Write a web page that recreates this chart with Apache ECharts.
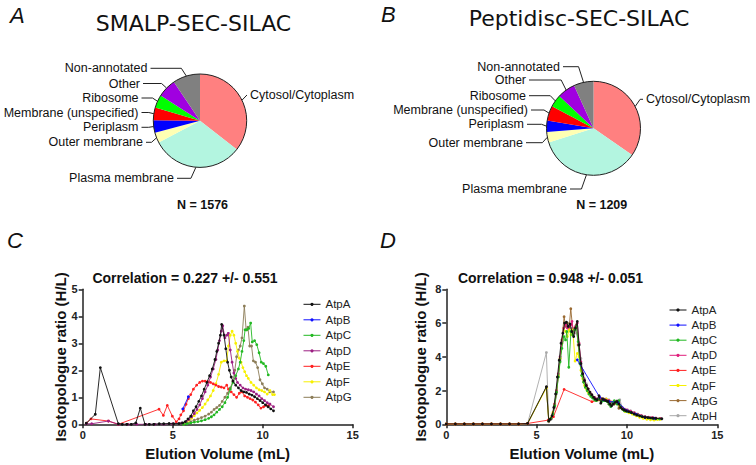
<!DOCTYPE html>
<html><head><meta charset="utf-8">
<script src="https://cdn.jsdelivr.net/npm/echarts@6/dist/echarts.min.js"></script>
<style>html,body{margin:0;padding:0;background:#fff}#c{width:756px;height:465px}</style>
</head><body><div id="c"></div>
<script>
// ---------- DATA ----------
const pieCategories = ['Cytosol/Cytoplasm','Plasma membrane','Outer membrane','Periplasm','Membrane (unspecified)','Ribosome','Other','Non-annotated'];
const pieColors = ['#ff8080','#b3f5e0','#ffffb3','#0000ff','#ff0000','#00ff00','#a000e0','#808080'];
const smalpCounts = [560, 500, 56, 69, 69, 71, 102, 149];      // N = 1576
const peptidiscCounts = [419, 429, 44, 47, 62, 51, 75, 82];    // N = 1209
const smalpN = 'N = 1576';
const peptidiscN = 'N = 1209';

const proteinsC = ['AtpA','AtpB','AtpC','AtpD','AtpE','AtpF','AtpG'];
const proteinsD = ['AtpA','AtpB','AtpC','AtpD','AtpE','AtpF','AtpG','AtpH'];
const xTicks = [0, 5, 10, 15];

// Panel C (SMALP) : [elution volume mL, H/L ratio]
const atpA_C = [[0.2,0.04],[0.7,0.37],[0.98,2.1],[1.98,0.02],[2.2,0],[2.45,0],[2.7,0],[2.95,0.05],[3.2,0.6],[3.46,0],[3.7,0],[3.95,0],[4.25,0.02],[4.5,0.02],[4.8,0.03],[5.05,0.02],[5.35,0.03],[5.55,0.05],[5.7,0.1],[5.85,0.2],[6.0,0.3],[6.15,0.5],[6.3,0.65],[6.45,0.85],[6.6,1.05],[6.75,1.3],[6.9,1.55],[7.05,1.8],[7.2,2.05],[7.35,2.4],[7.45,2.7],[7.55,3.0],[7.65,3.3],[7.72,3.7],[7.85,3.3],[7.95,2.8],[8.05,2.3],[8.15,2.0],[8.25,1.75],[8.35,1.6],[8.5,1.45],[8.65,1.35],[8.8,1.25],[8.95,1.2],[9.1,1.18],[9.25,1.12],[9.4,1.08],[9.55,1.02],[9.7,0.95],[9.85,0.88],[10.0,0.8],[10.15,0.72],[10.3,0.65],[10.45,0.57],[10.6,0.5]];
const atpB_C = [[5.56,0.57],[5.87,1.02]];
const atpC_C = [[5.6,0.0],[5.8,0.02],[6.0,0.05],[6.2,0.08],[6.4,0.1],[6.6,0.13],[6.8,0.17],[7.0,0.22],[7.15,0.28],[7.3,0.35],[7.45,0.45],[7.6,0.55],[7.75,0.65],[7.9,0.8],[8.05,1.0],[8.2,1.3],[8.35,1.55],[8.5,1.8],[8.65,2.05],[8.75,2.3],[8.85,2.7],[8.95,3.1],[9.02,3.5],[9.12,3.5],[9.22,3.55],[9.33,3.75],[9.42,3.05],[9.55,3.1],[9.67,2.95],[9.8,2.65],[9.92,2.3],[10.04,2.25],[10.17,2.15],[10.31,1.83]];
const atpD_C = [[0.2,0.02],[0.5,0.02],[1.43,0.12],[1.98,0.0],[2.5,0],[3.0,0],[3.5,0],[4.0,0],[4.5,0.0],[5.0,0.02],[5.5,0.05],[5.75,0.1],[5.9,0.18],[6.05,0.28],[6.2,0.4],[6.35,0.55],[6.5,0.72],[6.65,0.95],[6.8,1.2],[6.95,1.45],[7.1,1.75],[7.25,2.05],[7.4,2.4],[7.5,2.75],[7.6,3.1],[7.7,3.45],[7.78,3.65],[7.9,3.2],[8.0,3.3],[8.09,3.37],[8.2,2.75],[8.3,2.3],[8.4,1.9],[8.5,1.7],[8.6,1.55],[8.75,1.45],[8.9,1.35],[9.05,1.3],[9.2,1.28],[9.35,1.25],[9.5,1.2],[9.65,1.12],[9.8,1.05],[9.95,0.95],[10.1,0.88],[10.25,0.8],[10.4,0.75],[10.6,0.65]];
const atpE_C = [[0.2,0.04],[0.46,0.2],[1.43,0.12],[1.98,0.0],[4.24,0.56],[4.48,0.33],[4.7,0.7],[4.98,0.3],[5.2,0.09],[5.35,0.2],[5.45,0.35],[5.6,0.5],[5.74,0.74],[5.87,0.95],[6.0,1.1],[6.15,1.3],[6.33,1.45],[6.5,1.55],[6.65,1.6],[6.8,1.6],[6.95,1.58],[7.1,1.55],[7.25,1.5],[7.4,1.45],[7.55,1.4],[7.7,1.38],[7.85,1.35],[8.0,1.45],[8.1,1.3],[8.25,1.2],[8.4,1.1],[8.55,1.0],[8.7,1.15],[8.85,1.2],[9.0,1.05],[9.15,1.0],[9.3,0.95],[9.45,0.9],[9.6,0.82],[9.75,0.72],[9.9,0.6],[10.05,0.65],[10.2,0.7],[10.35,0.7]];
const atpF_C = [[5.6,0.02],[5.75,0.08],[5.9,0.15],[6.05,0.22],[6.2,0.32],[6.35,0.42],[6.5,0.52],[6.65,0.62],[6.8,0.75],[6.95,0.9],[7.1,1.05],[7.25,1.25],[7.4,1.5],[7.55,1.85],[7.7,2.3],[7.85,2.35],[8.0,2.35],[8.1,2.9],[8.2,3.3],[8.3,3.45],[8.4,3.3],[8.5,3.0],[8.6,2.7],[8.7,2.45],[8.8,2.3],[8.9,2.1],[9.0,1.95],[9.1,1.8],[9.2,1.7],[9.35,1.55],[9.5,1.45],[9.65,1.35],[9.8,1.28],[9.95,1.25],[10.1,1.2],[10.25,1.12],[10.4,1.25],[10.55,1.1],[10.65,1.1]];
const atpG_C = [[5.6,0.0],[5.8,0.05],[6.0,0.1],[6.2,0.15],[6.4,0.2],[6.6,0.25],[6.8,0.3],[7.0,0.38],[7.15,0.45],[7.3,0.55],[7.45,0.62],[7.6,0.7],[7.75,0.85],[7.9,1.0],[8.05,1.15],[8.2,1.35],[8.35,1.6],[8.45,2.0],[8.55,2.5],[8.65,2.75],[8.75,2.9],[8.85,3.2],[8.98,4.38],[9.08,3.5],[9.18,3.6],[9.28,2.9],[9.38,2.9],[9.48,2.35],[9.6,2.3],[9.72,2.1],[9.85,1.65],[9.98,1.5],[10.1,1.35],[10.25,1.3],[10.4,1.2],[10.6,1.2]];

// Panel D (Peptidisc)
const flatD = [[0,0.02],[0.5,0.02],[1,0.02],[1.5,0.02],[2,0.02],[2.5,0.02],[3,0.02],[3.5,0.02],[4,0.02],[4.5,0.05]];
const atpA_D = [[5.54,2.23],[5.67,0.2],[5.75,0.3],[5.85,0.5],[5.95,1.0],[6.05,1.8],[6.15,2.8],[6.25,3.8],[6.35,4.8],[6.45,5.4],[6.55,6.0],[6.65,6.05],[6.75,5.8],[6.85,5.95],[6.95,5.5],[7.05,5.2],[7.15,5.7],[7.25,6.1],[7.35,4.7],[7.45,3.6],[7.55,3.0],[7.65,2.6],[7.75,2.3],[7.85,2.1],[7.95,1.9],[8.05,1.75],[8.15,1.6],[8.25,1.5],[8.35,1.45],[8.45,1.7],[8.55,1.25],[8.65,1.5],[8.75,1.45],[8.85,1.4],[8.95,1.35],[9.05,1.2],[9.15,1.1],[9.25,1.2],[9.35,1.3],[9.45,1.35],[9.55,1.2],[9.65,1.0],[9.75,0.9],[9.85,0.85],[9.95,0.8],[10.1,0.75],[10.25,0.7],[10.4,0.62],[10.55,0.55],[10.7,0.5],[10.85,0.45],[11.0,0.42],[11.15,0.4],[11.3,0.38],[11.45,0.37],[11.6,0.35],[11.93,0.33]];
const atpB_D = [[7.25,3.82],[8.48,1.62],[8.7,1.45],[9.0,1.35],[9.5,1.3],[10.0,0.8],[10.5,0.6],[11.0,0.42],[11.5,0.36]];
const atpC_D = [[5.67,0.2],[5.8,0.35],[5.9,0.6],[6.0,1.1],[6.1,1.9],[6.2,2.8],[6.3,3.7],[6.4,4.5],[6.5,5.2],[6.6,5.0],[6.67,5.5],[6.78,3.38],[6.9,5.5],[7.0,5.3],[7.1,5.6],[7.2,5.8],[7.3,4.9],[7.4,3.6],[7.5,2.9],[7.6,2.5],[7.7,2.2],[7.8,2.0],[7.9,1.8],[8.0,1.65],[8.1,1.55],[8.2,1.45],[8.3,1.4],[8.45,1.5],[8.6,1.35],[8.75,1.4],[8.9,1.35],[9.0,1.2],[9.1,1.05],[9.2,1.3],[9.3,1.4],[9.45,1.2],[9.55,1.4],[9.65,1.05],[9.75,0.9],[9.85,0.8],[10.0,0.75],[10.2,0.7],[10.4,0.6],[10.6,0.55],[10.8,0.48],[11.0,0.42],[11.2,0.38],[11.4,0.35],[11.6,0.33],[11.8,0.32]];
const atpD_D = [[5.67,0.2],[5.8,0.35],[5.9,0.6],[6.0,1.2],[6.1,2.0],[6.2,3.0],[6.3,4.0],[6.4,4.9],[6.5,5.7],[6.6,5.9],[6.7,5.7],[6.8,5.8],[6.9,5.9],[6.96,6.1],[7.05,5.4],[7.15,5.8],[7.25,6.0],[7.35,4.8],[7.45,3.7],[7.55,3.0],[7.65,2.6],[7.75,2.3],[7.85,2.1],[7.95,1.9],[8.05,1.75],[8.2,1.6],[8.35,1.5],[8.5,1.55],[8.65,1.5],[8.8,1.45],[8.95,1.4],[9.1,1.25],[9.25,1.25],[9.4,1.35],[9.55,1.3],[9.7,1.0],[9.85,0.9],[10.0,0.85],[10.2,0.78],[10.4,0.68],[10.6,0.6],[10.8,0.52],[11.0,0.45],[11.2,0.42],[11.4,0.4],[11.6,0.37],[11.85,0.35]];
const atpE_D = [[5.65,0.25],[5.93,0.45],[6.52,2.07],[8.06,1.34],[8.5,1.45],[9.0,1.4],[9.5,1.3],[10.0,0.8],[10.5,0.6],[11.0,0.42],[11.5,0.35]];
const atpF_D = [[5.54,2.15],[5.67,0.2],[5.8,0.4],[5.9,0.7],[6.0,1.2],[6.1,2.0],[6.2,2.9],[6.3,3.9],[6.4,4.8],[6.5,5.7],[6.6,5.5],[6.7,5.2],[6.8,5.6],[6.9,5.3],[7.0,5.6],[7.13,3.75],[7.25,4.2],[7.35,4.0],[7.45,3.2],[7.55,2.7],[7.65,2.3],[7.75,2.1],[7.85,1.9],[7.95,1.75],[8.1,1.6],[8.25,1.5],[8.4,1.45],[8.55,1.5],[8.7,1.45],[8.85,1.5],[9.0,1.35],[9.15,1.2],[9.3,1.25],[9.45,1.3],[9.6,1.1],[9.75,0.9],[9.9,0.75],[10.1,0.68],[10.3,0.6],[10.5,0.5],[10.7,0.42],[10.9,0.35],[11.1,0.3],[11.3,0.27],[11.5,0.25],[11.7,0.28],[11.85,0.3]];
const atpG_D = [[5.54,2.2],[5.67,0.2],[5.8,0.35],[5.9,0.6],[6.0,1.1],[6.1,1.9],[6.2,2.9],[6.3,3.9],[6.4,5.0],[6.52,6.38],[6.6,5.8],[6.7,6.0],[6.8,5.7],[6.89,6.85],[7.0,5.6],[7.1,5.7],[7.2,5.9],[7.3,4.7],[7.4,3.6],[7.5,2.9],[7.6,2.5],[7.7,2.2],[7.8,2.0],[7.9,1.8],[8.0,1.7],[8.1,1.6],[8.25,1.5],[8.4,1.45],[8.55,1.55],[8.7,1.5],[8.85,1.45],[9.0,1.2],[9.15,1.25],[9.3,1.2],[9.45,1.35],[9.55,0.95],[9.7,0.95],[9.85,0.85],[10.0,0.8],[10.2,0.72],[10.4,0.62],[10.6,0.55],[10.8,0.48],[11.0,0.42],[11.2,0.38],[11.4,0.35],[11.6,0.33],[11.8,0.33]];
const atpH_D = [[5.54,4.25],[5.67,0.15],[5.8,0.3],[5.9,0.55],[6.0,1.0],[6.1,1.8],[6.2,2.8],[6.3,3.8],[6.4,4.9],[6.5,5.6],[6.6,6.0],[6.7,5.8],[6.8,5.9],[6.9,5.7],[7.0,5.5],[7.1,5.6],[7.2,5.4],[7.35,4.75],[7.45,3.9],[7.55,3.2],[7.65,2.7],[7.75,2.4],[7.85,2.1],[7.95,1.9],[8.1,1.7],[8.25,1.55],[8.4,1.5],[8.55,1.55],[8.7,1.5],[8.85,1.5],[9.0,1.45],[9.15,1.3],[9.3,1.3],[9.45,1.4],[9.6,1.45],[9.75,1.0],[9.9,0.9],[10.05,0.85],[10.2,0.8],[10.4,0.7],[10.6,0.6],[10.8,0.5],[11.0,0.45],[11.2,0.4],[11.4,0.38],[11.6,0.36],[11.85,0.35]];

// ---------- STYLE / LAYOUT ----------
const SANS = '"Liberation Sans", Arial, sans-serif';
const colorsC = ['#111111','#1010ff','#22b822','#9c1f82','#ff2020','#f7f000','#8c7d58'];
const colorsD = ['#111111','#1010ff','#22b822','#e0207c','#ff2020','#f7f000','#9a6a32','#a8a8a8'];

const pieA = {cx: 200, cy: 120.7, r: 46.7};
const pieB = {cx: 593.5, cy: 128.3, r: 47};
const pieALabelPos = [[250,95,'r'],[174,178.3,'l'],[143,142.3,'l'],[138.5,127.3,'l'],[138.5,112.5,'l'],[138.5,98,'l'],[140,83.5,'l'],[147.5,68.3,'l']];
const pieBLabelPos = [[646,99.3,'r'],[567,189,'l'],[523,142.7,'l'],[524,124.3,'l'],[528,110,'l'],[526,95.7,'l'],[526,80,'l'],[560,66.7,'l']];

function pieLabelLayout(values, geo, pos) {
  const total = values.reduce((a, b) => a + b, 0);
  const mids = []; let acc = 0;
  values.forEach(v => { mids.push((acc + v / 2) / total * 2 * Math.PI); acc += v; });
  return function (params) {
    const i = params.dataIndex;
    const a = mids[i];
    const ex = geo.cx + geo.r * Math.sin(a), ey = geo.cy - geo.r * Math.cos(a);
    const p = pos[i];
    const right = p[2] === 'r';
    const bx = right ? ex + 5 : ex - 5;
    const tx = right ? p[0] - 3 : p[0] + 3;
    return {x: p[0], y: p[1], align: right ? 'left' : 'right', verticalAlign: 'middle',
      labelLinePoints: [[ex, ey], [bx, p[1]], [tx, p[1]]]};
  };
}

function pieSeries(values, geo, pos) {
  return {
    type: 'pie', center: [geo.cx, geo.cy], radius: geo.r, startAngle: 90, clockwise: true,
    silent: true, avoidLabelOverlap: false, minShowLabelAngle: 0, z: 2,
    data: pieCategories.map((n, i) => ({name: n, value: values[i], itemStyle: {color: pieColors[i]}})),
    itemStyle: {borderWidth: 0},
    label: {show: true, position: 'outside', formatter: '{b}', fontFamily: SANS, fontSize: 12.5, lineHeight: 11.5, color: '#111'},
    labelLine: {show: true, length: 8, length2: 8, lineStyle: {color: '#222', width: 1}},
    labelLayout: pieLabelLayout(values, geo, pos),
    emphasis: {disabled: true}
  };
}
function pieOutline(geo) {
  return {type: 'pie', center: [geo.cx, geo.cy], radius: geo.r, silent: true, z: 3,
    data: [{value: 1, name: ''}], label: {show: false}, labelLine: {show: false},
    itemStyle: {color: 'rgba(0,0,0,0)', borderColor: '#222', borderWidth: 1}, emphasis: {disabled: true}};
}

function lineSeries(name, data, color, gi, z) {
  return {type: 'line', name: name, data: data, xAxisIndex: gi, yAxisIndex: gi,
    symbol: 'circle', symbolSize: 2.8, showSymbol: true, z: z,
    itemStyle: {color: color}, lineStyle: {color: color, width: 0.9}, emphasis: {disabled: true}};
}

const axisCommon = {
  axisLine: {show: true, onZero: false, lineStyle: {color: '#222', width: 1.5}},
  axisTick: {show: true, length: 4, lineStyle: {color: '#222', width: 1.5}},
  splitLine: {show: false},
  axisLabel: {fontFamily: SANS, fontWeight: 'bold', fontSize: 11, color: '#222', margin: 5},
  nameLocation: 'middle',
  nameTextStyle: {fontFamily: SANS, fontWeight: 'bold', fontSize: 15, color: '#111'}
};

const seriesC = [atpA_C, atpB_C, atpC_C, atpD_C, atpE_C, atpF_C, atpG_C];
const seriesD = [flatD.concat(atpA_D), atpB_D, atpC_D, atpD_D, flatD.concat(atpE_D), flatD.concat(atpF_D), flatD.concat(atpG_D), flatD.concat(atpH_D)];

const series = [
  pieSeries(smalpCounts, pieA, pieALabelPos), pieOutline(pieA),
  pieSeries(peptidiscCounts, pieB, pieBLabelPos), pieOutline(pieB)
];
proteinsC.forEach((n, i) => series.push(lineSeries(n, seriesC[i], colorsC[i], 0, 20 - i)));
proteinsD.forEach((n, i) => series.push(lineSeries('D-' + n, seriesD[i], colorsD[i], 1, 20 - i)));

function txt(text, x, y, font, align) {
  return {type: 'text', x: x, y: y, silent: true,
    style: {text: text, font: font, fill: '#111', align: align || 'left', textAlign: align || 'left',
      verticalAlign: 'middle', textVerticalAlign: 'middle'}};
}

const legendCommon = {orient: 'vertical', itemWidth: 17, itemHeight: 4,
  lineStyle: {width: 1}, itemStyle: {borderWidth: 0},
  textStyle: {fontFamily: SANS, fontSize: 11.5, color: '#222', lineHeight: 12}, selectedMode: false};

const option = {
  animation: false,
  backgroundColor: '#fff',
  grid: [
    {left: 82.7, top: 289.3, width: 270, height: 135},
    {left: 446.3, top: 289.3, width: 271, height: 135}
  ],
  xAxis: [
    Object.assign({}, axisCommon, {type: 'value', gridIndex: 0, min: xTicks[0], max: xTicks[3], interval: 5, name: 'Elution Volume (mL)', nameGap: 22}),
    Object.assign({}, axisCommon, {type: 'value', gridIndex: 1, min: xTicks[0], max: xTicks[3], interval: 5, name: 'Elution Volume (mL)', nameGap: 22})
  ],
  yAxis: [
    Object.assign({}, axisCommon, {type: 'value', gridIndex: 0, min: 0, max: 5, interval: 1, name: 'Isotopologue ratio (H/L)', nameGap: 13}),
    Object.assign({}, axisCommon, {type: 'value', gridIndex: 1, min: 0, max: 8, interval: 2, name: 'Isotopologue ratio (H/L)', nameGap: 18})
  ],
  legend: [
    Object.assign({}, legendCommon, {left: 298, top: 293.3, itemGap: 3.5, data: proteinsC}),
    Object.assign({}, legendCommon, {left: 664, top: 299, itemGap: 3.1, data: proteinsD.map(n => 'D-' + n),
      formatter: n => n.replace('D-', '')})
  ],
  series: series,
  graphic: [
    txt('A', 10, 15, 'italic 22px ' + SANS),
    txt('B', 381, 14, 'italic 22px ' + SANS),
    txt('C', 7, 240, 'italic 22px ' + SANS),
    txt('D', 380, 240, 'italic 22px ' + SANS),
    txt('SMALP-SEC-SILAC', 193.5, 23, '22px "DejaVu Sans", sans-serif', 'center'),
    txt('Peptidisc-SEC-SILAC', 579, 18, '22px "DejaVu Sans", sans-serif', 'center'),
    txt(smalpN, 202.5, 205, 'bold 12.5px ' + SANS, 'center'),
    txt(peptidiscN, 601.7, 205, 'bold 12.5px ' + SANS, 'center'),
    txt('Correlation = 0.227 +/- 0.551', 185, 278, 'bold 14px ' + SANS, 'center'),
    txt('Correlation = 0.948 +/- 0.051', 550.5, 278, 'bold 14px ' + SANS, 'center')
  ]
};

const chart = echarts.init(document.getElementById('c'), null, {renderer: 'svg', width: 756, height: 465});
chart.setOption(option);
</script>
</body></html>
